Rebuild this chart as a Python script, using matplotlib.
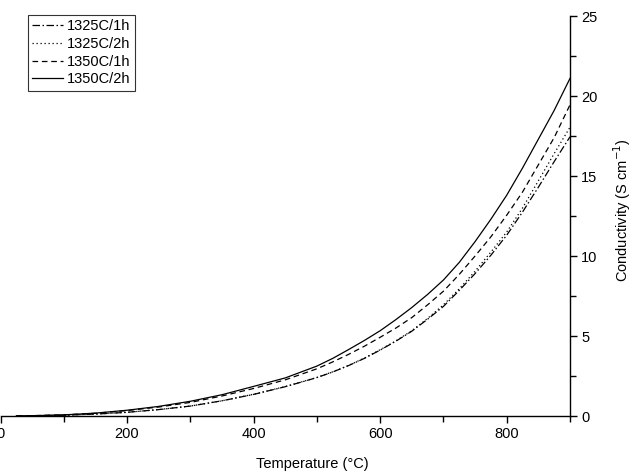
import matplotlib
matplotlib.use("Agg")
import matplotlib.pyplot as plt
from matplotlib.ticker import MultipleLocator

plt.rcParams['font.family'] = ['Liberation Sans', 'DejaVu Sans']

temperature = [25, 50, 100, 150, 200, 250, 300, 350, 400, 450, 500, 525, 550, 575, 600, 625,
               650, 675, 700, 725, 750, 775, 800, 825, 850, 875, 900]
c1325_1h = [0.0, 0.01, 0.05, 0.12, 0.23, 0.40, 0.62, 0.95, 1.35, 1.83, 2.40, 2.75, 3.15, 3.60,
            4.12, 4.68, 5.30, 6.05, 6.85, 7.85, 8.90, 10.05, 11.3, 12.75, 14.3, 15.9, 17.45]
c1325_2h = [0.0, 0.01, 0.05, 0.12, 0.23, 0.40, 0.62, 0.95, 1.36, 1.84, 2.41, 2.76, 3.16, 3.62,
            4.14, 4.70, 5.33, 6.10, 6.95, 7.95, 9.05, 10.25, 11.5, 13.0, 14.7, 16.4, 18.05]
c1350_1h = [0.0, 0.02, 0.07, 0.17, 0.34, 0.56, 0.85, 1.25, 1.72, 2.26, 2.95, 3.38, 3.85, 4.36,
            4.92, 5.50, 6.15, 6.95, 7.80, 8.85, 10.0, 11.2, 12.55, 14.0, 15.7, 17.4, 19.45]
c1350_2h = [0.0, 0.02, 0.07, 0.18, 0.36, 0.60, 0.92, 1.33, 1.85, 2.38, 3.12, 3.60, 4.15, 4.72,
            5.33, 6.03, 6.78, 7.60, 8.50, 9.60, 10.9, 12.3, 13.8, 15.5, 17.3, 19.1, 21.1]
labels = ['1325C/1h', '1325C/2h', '1350C/1h', '1350C/2h']

fig = plt.figure(figsize=(6.32, 4.72), dpi=100)
ax = fig.add_axes([0.5 / 632, 1 - 416 / 472, 569.5 / 632, 400 / 472])

lw = 0.9
ax.plot(temperature, c1325_1h, color='black', lw=lw, dashes=[6, 2, 1.2, 2], label=labels[0])
ax.plot(temperature, c1325_2h, color='black', lw=lw, dashes=[1, 2.2], label=labels[1])
ax.plot(temperature, c1350_1h, color='black', lw=lw, dashes=[4.5, 3], label=labels[2])
ax.plot(temperature, c1350_2h, color='black', lw=lw, linestyle='-', label=labels[3])

ax.set_xlim(0, 900)
ax.set_ylim(0, 25)
ax.spines['top'].set_visible(False)
ax.spines['left'].set_visible(False)
ax.spines['bottom'].set_linewidth(1.0)
ax.spines['right'].set_linewidth(1.0)
ax.yaxis.tick_right()
ax.xaxis.set_major_locator(MultipleLocator(200))
ax.xaxis.set_minor_locator(MultipleLocator(100))
ax.yaxis.set_major_locator(MultipleLocator(5))
ax.yaxis.set_minor_locator(MultipleLocator(2.5))
ax.tick_params(which='both', direction='out', width=1.0, labelsize=10.5, colors='black')
ax.tick_params(which='major', length=5, pad=3)
ax.tick_params(which='minor', length=4)
ax.tick_params(axis='y', which='both', left=False, right=True)

fig.text(312 / 632, 1 - 464 / 472, 'Temperature (°C)', ha='center', va='center', fontsize=10.5)
fig.text(622 / 632, 1 - 210 / 472, 'Conductivity (S cm$^{-1}$)', ha='center', va='center',
         rotation=90, fontsize=10.5)

leg = ax.legend(loc='upper left', bbox_to_anchor=(28 / 632, 1 - 15 / 472),
                bbox_transform=fig.transFigure, borderaxespad=0, fontsize=10.5,
                frameon=True, fancybox=False, handlelength=2.1, handletextpad=0.3,
                labelspacing=0.25, borderpad=0.3)
leg.get_frame().set_edgecolor('black')
leg.get_frame().set_linewidth(0.8)

fig.savefig('out.png', dpi=100)
